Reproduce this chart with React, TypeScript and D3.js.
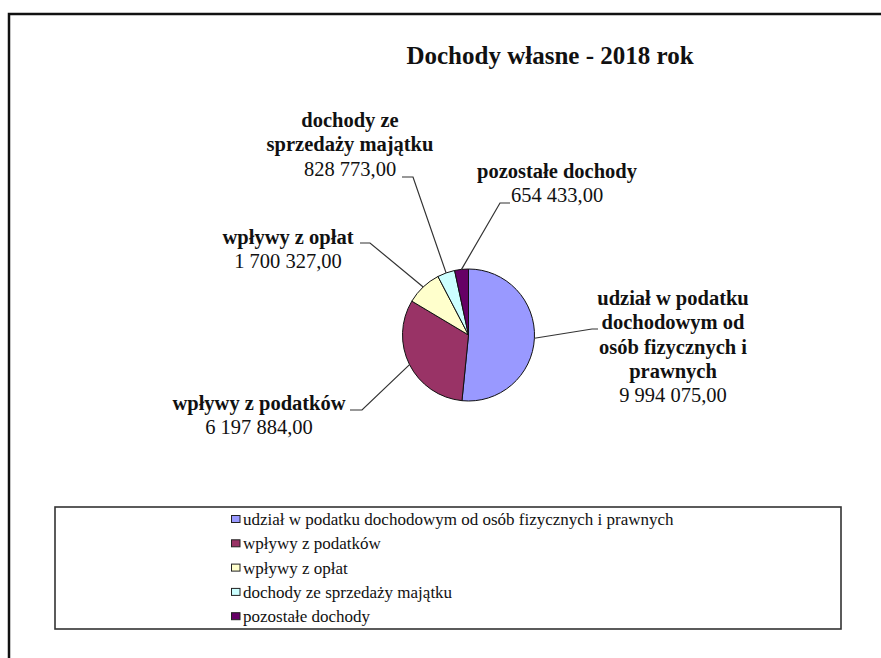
import React from "react";
import * as d3 from "d3";

const categories = [
  "udział w podatku dochodowym od osób fizycznych i prawnych",
  "wpływy z podatków",
  "wpływy z opłat",
  "dochody ze sprzedaży majątku",
  "pozostałe dochody",
];
const values = [9994075, 6197884, 1700327, 828773, 654433];
const valueLabels = ["9 994 075,00", "6 197 884,00", "1 700 327,00", "828 773,00", "654 433,00"];
const labelLines = [
  ["udział w podatku", "dochodowym od", "osób fizycznych i", "prawnych"],
  ["wpływy z podatków"],
  ["wpływy z opłat"],
  ["dochody ze", "sprzedaży majątku"],
  ["pozostałe dochody"],
];
const colors = ["#9999FF", "#993366", "#FFFFCC", "#CCFFFF", "#660066"];
const title = "Dochody własne - 2018 rok";

// layout (positions of label blocks, elbow points)
const W = 881, H = 658;
const cx = 468.5, cy = 335, R = 66;
const labelLayout = [
  { x: 673, y: 298, elbow: [592, 329], end: [598, 329] },
  { x: 259, y: 403, elbow: [362, 410], end: [350, 410] },
  { x: 288, y: 237, elbow: [370, 243], end: [360, 243] },
  { x: 350, y: 120, elbow: [413, 177], end: [402, 177] },
  { x: 557, y: 171, elbow: [500, 203], end: [510, 203] },
];
const lineGap = 24.2;
const font = "'Liberation Serif', 'Times New Roman', serif";

export default function App() {
  const pie = d3.pie<number>().sort(null).value((d) => d)(values);
  const arc = d3.arc<d3.PieArcDatum<number>>().innerRadius(0).outerRadius(R);
  const outer = d3.arc<d3.PieArcDatum<number>>().innerRadius(R).outerRadius(R);

  return (
    <svg width={W} height={H} style={{ position: "fixed", left: 0, top: 0, background: "#fff" }} fontFamily={font}>
      <rect x={0} y={0} width={W} height={H} fill="#fff" />
      <rect x={9} y={14} width={W + 20} height={H + 20} fill="none" stroke="#111" strokeWidth={2.5} />
      <text x={550} y={64} textAnchor="middle" fontWeight="bold" fontSize={25} fill="#111">{title}</text>
      <g transform={`translate(${cx},${cy})`}>
        {pie.map((p, i) => (
          <path key={i} d={arc(p) || ""} fill={colors[i]} stroke="#111" strokeWidth={1} />
        ))}
      </g>
      {pie.map((p, i) => {
        const [px, py] = outer.centroid(p);
        const L = labelLayout[i];
        return (
          <polyline key={"l" + i}
            points={`${cx + px},${cy + py} ${L.elbow[0]},${L.elbow[1]} ${L.end[0]},${L.end[1]}`}
            fill="none" stroke="#333" strokeWidth={1.2} />
        );
      })}
      {labelLines.map((lines, i) => {
        const L = labelLayout[i];
        return (
          <g key={"t" + i} fontSize={20.5} textAnchor="middle">
            {lines.map((ln, j) => (
              <text key={j} x={L.x} y={L.y + j * lineGap} dy="0.35em" fontWeight="bold" fill="#111">{ln}</text>
            ))}
            <text x={L.x} y={L.y + lines.length * lineGap} dy="0.35em" fill="#111">{valueLabels[i]}</text>
          </g>
        );
      })}
      <rect x={55} y={507} width={786} height={122} fill="#fff" stroke="#333" strokeWidth={1.6} />
      {categories.map((c, i) => {
        const yc = 519 + i * 24.3;
        return (
          <g key={"lg" + i}>
            <rect x={231.5} y={yc - 3.5} width={8.5} height={7} fill={colors[i]} stroke="#222" strokeWidth={1} />
            <text x={243} y={yc} dy="0.35em" fontSize={17} fill="#111">{c}</text>
          </g>
        );
      })}
    </svg>
  );
}
